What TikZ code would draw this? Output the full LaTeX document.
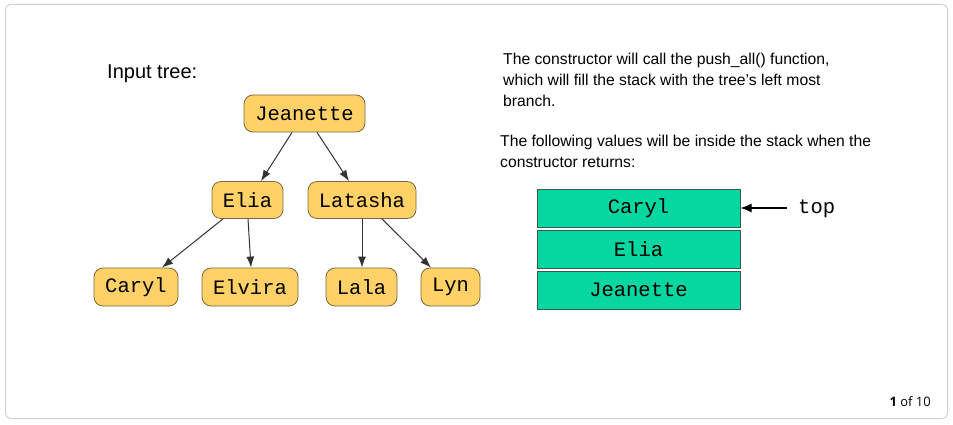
\documentclass[tikz,border=0pt]{standalone}
\usepackage{fontspec}
\setmainfont{Liberation Sans}
\setmonofont{Liberation Mono}
\newfontfamily\pagefont{Open Sans}
\usetikzlibrary{arrows.meta}
\definecolor{nodefill}{HTML}{FFD166}
\definecolor{nodeline}{HTML}{7A6A40}
\definecolor{stackfill}{HTML}{06D6A0}
\definecolor{stackline}{HTML}{3A5A50}
\definecolor{edgecol}{HTML}{333333}
\tikzset{
  treenode/.style={draw=nodeline, fill=nodefill, rounded corners=9pt, line width=0.8pt,
    inner sep=0pt, font=\ttfamily\fontsize{20.5}{24}\selectfont, text=black},
  stackbox/.style={draw=stackline, fill=stackfill, line width=1pt, inner sep=0pt,
    minimum width=203pt, minimum height=38pt, font=\ttfamily\fontsize{20.5}{24}\selectfont},
  treeedge/.style={draw=edgecol, line width=1pt, -{Latex[length=11pt,width=8pt]}},
  bodytext/.style={font=\fontsize{15.7}{21}\selectfont, align=left, inner sep=0pt, anchor=north west, text=black}
}
\begin{document}
\begin{tikzpicture}[x=1pt,y=-1pt]
\useasboundingbox (0,0) rectangle (953,425);
\draw[draw=black!18, line width=1pt, rounded corners=5pt, fill=white] (5.5,4.5) rectangle (947.5,418.5);

\node[anchor=west, inner sep=0pt, font=\fontsize{20}{24}\selectfont] (title) at (107,74) {Input tree:};

\node[treenode, minimum width=121pt, minimum height=37pt] (J) at (304.5,113.5) {Jeanette};
\node[treenode, minimum width=71pt, minimum height=37pt] (E) at (247.5,200) {Elia};
\node[treenode, minimum width=108pt, minimum height=37pt] (L) at (362,200) {Latasha};
\node[treenode, minimum width=84pt, minimum height=38pt] (C) at (136,287) {Caryl};
\node[treenode, minimum width=96pt, minimum height=38pt] (V) at (250,287) {Elvira};
\node[treenode, minimum width=71pt, minimum height=38pt] (A) at (361.5,287) {Lala};
\node[treenode, minimum width=59pt, minimum height=38pt] (Y) at (450.5,287) {Lyn};

\draw[treeedge] ([xshift=-12.5pt]J.south) -- ([xshift=13.5pt]E.north);
\draw[treeedge] ([xshift=12.5pt]J.south) -- ([xshift=-13pt]L.north);
\draw[treeedge] ([xshift=-24.5pt]E.south) -- ([xshift=26pt]C.north);
\draw[treeedge] ([xshift=0.5pt]E.south) -- ([xshift=1pt]V.north);
\draw[treeedge] ([xshift=0pt]L.south) -- ([xshift=0.5pt]A.north);
\draw[treeedge] ([xshift=20pt]L.south) -- ([xshift=-19.5pt]Y.north);

\node[bodytext] (p1) at (503,53) {The constructor will call the push\_all() function,\\which will fill the stack with the tree's left most\\branch.};
\node[bodytext] (p2) at (500,135) {The following values will be inside the stack when the\\constructor returns:};

\node[stackbox] (s1) at (638.5,208) {Caryl};
\node[stackbox] (s2) at (638.5,249) {Elia};
\node[stackbox] (s3) at (638.5,290) {Jeanette};

\node[anchor=west, inner sep=0pt, font=\ttfamily\fontsize{20.5}{24}\selectfont] (top) at (798,209) {top};
\coordinate (topstart) at (787,208);
\draw[line width=1.2pt, -{Latex[length=11pt,width=9pt]}] (topstart) -- (s1.east);

\node[anchor=east, inner sep=0pt, font=\pagefont\fontsize{13}{16}\selectfont] (pg) at (931,402) {\textbf{1} of 10};
\end{tikzpicture}
\end{document}
